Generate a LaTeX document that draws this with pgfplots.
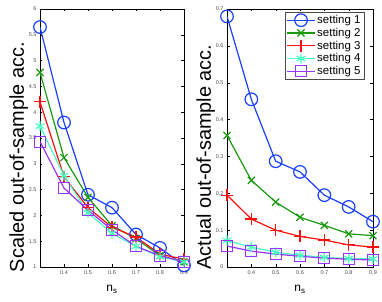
\documentclass[border=0pt]{standalone}
\usepackage{fontspec}
\setmainfont{Liberation Sans}
\usepackage{pgfplots}
\pgfplotsset{compat=1.18}
\definecolor{c1}{rgb}{0.1,0.25,1}
\definecolor{c2}{rgb}{0.1,0.6,0.05}
\definecolor{c3}{rgb}{1,0.05,0.05}
\definecolor{c4}{rgb}{0.3,1,0.75}
\definecolor{c5}{rgb}{0.6,0.2,1}
\pgfplotsset{
  myax/.style={
    scale only axis,
    xmin=0.3, xmax=0.9,
    xtick={0.4,0.5,0.6,0.7,0.8,0.9},
    tick align=inside,
    tick style={black, line width=0.3pt},
    major tick length=2.5bp,
    axis line style={line width=0.4pt},
    ticklabel style={font=\fontsize{5.5}{6}\selectfont, text=black!70},
    /pgf/number format/assume math mode=true,
    xlabel={n\textsubscript{s}},
    xlabel style={font=\fontsize{12}{13}\selectfont, yshift=-4bp},
    ylabel style={font=\fontsize{20}{22}\selectfont, yshift=-6bp, xshift=-19bp},
    every axis plot/.append style={line width=1.2pt, mark size=6bp},
  },
  s1/.style={c1, mark=o, mark size=6.3bp},
  s2/.style={c2, mark=x, mark size=5bp},
  s3/.style={c3, mark=+, mark size=6bp},
  s4/.style={c4, mark=asterisk, mark size=5bp},
  s5/.style={c5, mark=square, mark size=5.5bp},
}
\begin{document}
\begin{tikzpicture}
\path[use as bounding box] (0,0) rectangle (382bp,302bp);
\begin{axis}[myax, at={(40bp,35bp)}, anchor=south west,
  width=144bp, height=258bp,
  ymin=1, ymax=6, ytick={1,1.5,2,2.5,3,3.5,4,4.5,5,5.5,6},
  yticklabels={1,1.5,2,2.5,3,3.5,4,4.5,5,5.5,6},
  ylabel={Scaled out-of-sample acc.}]
\addplot[s1] coordinates {(0.3,5.65)(0.4,3.8)(0.5,2.4)(0.6,2.15)(0.7,1.63)(0.8,1.37)(0.9,1.03)};
\addplot[s2] coordinates {(0.3,4.77)(0.4,3.12)(0.5,2.35)(0.6,1.8)(0.7,1.55)(0.8,1.22)(0.9,1.1)};
\addplot[s3] coordinates {(0.3,4.2)(0.4,2.75)(0.5,2.15)(0.6,1.77)(0.7,1.58)(0.8,1.25)(0.9,1.15)};
\addplot[s4] coordinates {(0.3,3.73)(0.4,2.77)(0.5,2.05)(0.6,1.65)(0.7,1.4)(0.8,1.2)(0.9,1.1)};
\addplot[s5] coordinates {(0.3,3.43)(0.4,2.53)(0.5,2.1)(0.6,1.72)(0.7,1.4)(0.8,1.22)(0.9,1.1)};
\end{axis}
\begin{axis}[myax, at={(227bp,35bp)}, anchor=south west,
  width=146bp, height=258bp,
  ymin=0, ymax=0.7, ytick={0,0.1,0.2,0.3,0.4,0.5,0.6,0.7},
  yticklabels={0,0.1,0.2,0.3,0.4,0.5,0.6,0.7},
  ylabel={Actual out-of-sample acc.},
  legend style={at={(0.94,0.99)}, anchor=north east, font=\fontsize{11.5}{13}\selectfont,
    draw=black!70, line width=0.4pt, row sep=-1bp, inner sep=1.5bp},
  legend cell align=left,
  legend image code/.code={
    \draw[mark repeat=2,mark phase=2] plot coordinates {(0cm,0cm) (0.48cm,0cm) (0.96cm,0cm)};},
  legend image post style={line width=1.2pt}]
\addplot[s1] coordinates {(0.3,0.68)(0.4,0.455)(0.5,0.287)(0.6,0.258)(0.7,0.195)(0.8,0.163)(0.9,0.123)};
\addplot[s2] coordinates {(0.3,0.357)(0.4,0.235)(0.5,0.176)(0.6,0.135)(0.7,0.113)(0.8,0.09)(0.9,0.085)};
\addplot[s3] coordinates {(0.3,0.195)(0.4,0.13)(0.5,0.1)(0.6,0.083)(0.7,0.073)(0.8,0.06)(0.9,0.054)};
\addplot[s4] coordinates {(0.3,0.072)(0.4,0.054)(0.5,0.04)(0.6,0.032)(0.7,0.026)(0.8,0.023)(0.9,0.022)};
\addplot[s5] coordinates {(0.3,0.057)(0.4,0.043)(0.5,0.035)(0.6,0.029)(0.7,0.024)(0.8,0.021)(0.9,0.019)};
\legend{setting 1,setting 2,setting 3,setting 4,setting 5}
\end{axis}
\end{tikzpicture}
\end{document}
